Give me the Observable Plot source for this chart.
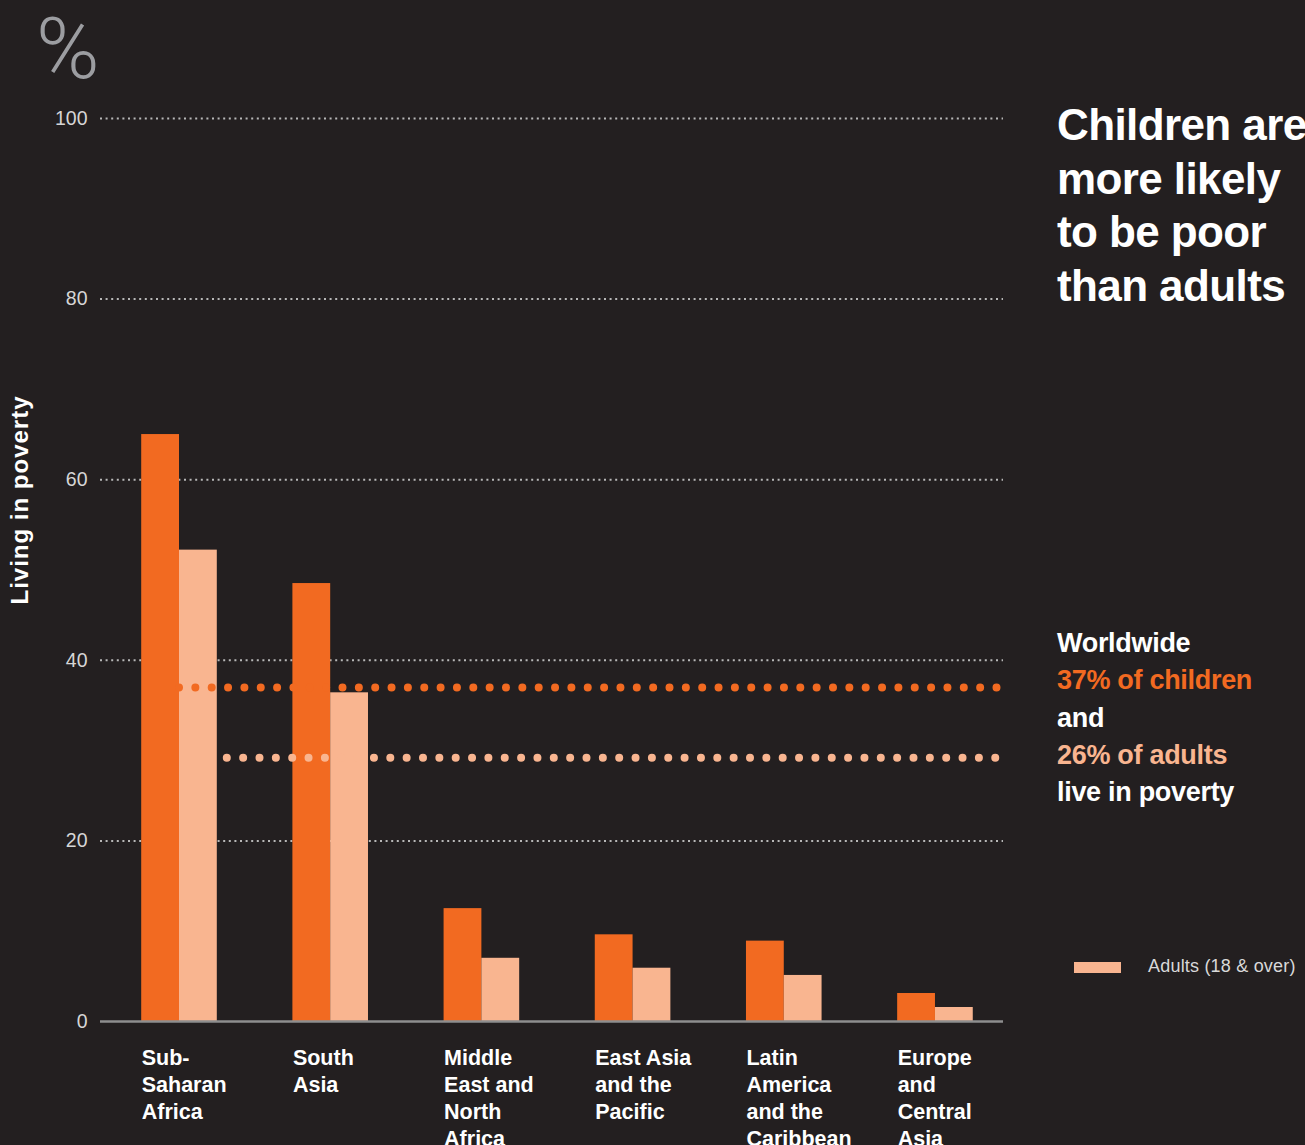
<!DOCTYPE html>
<html>
<head>
<meta charset="utf-8">
<script src="https://cdn.jsdelivr.net/npm/d3@7"></script>
<script src="https://cdn.jsdelivr.net/npm/@observablehq/plot@0.6"></script>
<style>
  html, body { margin: 0; padding: 0; background: #231f20; }
  #wrap { position: relative; width: 1305px; height: 1145px; overflow: hidden; background: #231f20; font-family: "Liberation Sans", Arial, sans-serif; }
  #chart { position: absolute; left: 0; top: 0; }
  .abs { position: absolute; white-space: nowrap; }
  #pct { left: 36px; top: 4px; font-family: Roboto, "Liberation Sans", sans-serif; font-weight: 300; font-size: 86px; line-height: 90px; color: #9c9da1; }
  #ylab { left: 20px; top: 500px; transform: translate(-50%, -50%) rotate(-90deg); font-weight: bold; font-size: 24px; line-height: 28px; color: #ffffff; letter-spacing: 1px; }
  #title { left: 1057px; top: 98px; font-weight: bold; font-size: 44px; line-height: 53.5px; color: #ffffff; letter-spacing: -0.6px; }
  #note { left: 1057px; top: 625px; font-weight: bold; font-size: 27px; line-height: 37.3px; color: #ffffff; letter-spacing: -0.3px; }
  #legsw { left: 1074px; top: 962px; width: 47px; height: 11px; }
  #legtx { left: 1148px; top: 956px; font-size: 18px; line-height: 20px; color: #d9d9d9; letter-spacing: 0.2px; }
</style>
</head>
<body>
<div id="wrap">
  <div id="chart"></div>
  <div class="abs" id="pct">%</div>
  <div class="abs" id="ylab">Living in poverty</div>
  <div class="abs" id="title"></div>
  <div class="abs" id="note"></div>
  <div class="abs" id="legsw"></div>
  <div class="abs" id="legtx"></div>
</div>
<script>
// ---- Data ----
const regions = ["Sub-\nSaharan\nAfrica", "South\nAsia", "Middle\nEast and\nNorth\nAfrica", "East Asia\nand the\nPacific", "Latin\nAmerica\nand the\nCaribbean", "Europe\nand\nCentral\nAsia"];
const children = [65.0, 48.5, 12.5, 9.6, 8.9, 3.1];
const adults = [52.2, 36.4, 7.0, 5.9, 5.1, 1.55];
const yTicks = [0, 20, 40, 60, 80, 100];
const childWorld = 37.0;   // drawn reference line (children)
const adultWorld = 29.2;   // drawn reference line (adults), as placed in the picture
const titleLines = ["Children are", "more likely", "to be poor", "than adults"];
const noteLines = [["Worldwide", "white"], ["37% of children", "orange"], ["and", "white"], ["26% of adults", "light"], ["live in poverty", "white"]];
const legendLabel = "Adults (18 & over)";

const colors = { orange: "#f26a21", light: "#f9b590", white: "#ffffff" };

// ---- Build table ----
const table = regions.map((r, i) => ({ region: r, i, child: children[i], adult: adults[i] }));
const xDomain = [-0.5225, 5.45];
const refs = [
  { value: childWorld, start: 0, color: colors.orange, offset: 0 },
  { value: adultWorld, start: 0.25, color: colors.light, offset: 6.35 }
];

const chart = Plot.plot({
  width: 1305,
  height: 1145,
  marginLeft: 100,
  marginRight: 302,
  marginTop: 118,
  marginBottom: 124,
  style: { background: "transparent", color: "#d6d6d6", fontFamily: "'Liberation Sans', Arial, sans-serif", overflow: "hidden" },
  x: { domain: xDomain, axis: null },
  y: { domain: [0, 100], axis: null },
  marks: [
    Plot.gridY(yTicks.filter(t => t > 0), { stroke: "#b8b8b8", strokeOpacity: 1, strokeWidth: 2, strokeDasharray: "2,3.6" }),
    Plot.axisY(yTicks, { tickSize: 0, tickPadding: 13, fontSize: 19.5, fill: "#d6d6d6", label: null }),
    Plot.rect(table, { x1: d => d.i - 0.25, x2: d => d.i, y1: () => 0, y2: "child", fill: colors.orange }),
    Plot.rect(table, { x1: d => d.i, x2: d => d.i + 0.25, y1: () => 0, y2: "adult", fill: colors.light }),
    Plot.ruleY([0], { stroke: "#8e8e8e", strokeWidth: 2.5 }),
    ...refs.map(r => Plot.ruleY([r], { y: "value", x1: d => d.start, x2: () => xDomain[1], stroke: r.color, strokeWidth: 8, strokeLinecap: "round", strokeDasharray: "0,16.35", strokeDashoffset: r.offset })),
    Plot.text(table, { x: d => d.i - 0.25, y: () => 0, text: "region", textAnchor: "start", lineAnchor: "top", dy: 24, fontSize: 21.5, fontWeight: "bold", fill: "#ffffff", lineHeight: 1.256, style: "letter-spacing:1px" })
  ]
});
document.getElementById("chart").appendChild(chart);

// ---- Side texts ----
document.getElementById("title").innerHTML = titleLines.join("<br>");
document.getElementById("note").innerHTML = noteLines.map(([t, c]) => `<span style="color:${colors[c]}">${t}</span>`).join("<br>");
document.getElementById("legsw").style.background = colors.light;
document.getElementById("legtx").textContent = legendLabel;
</script>
</body>
</html>
